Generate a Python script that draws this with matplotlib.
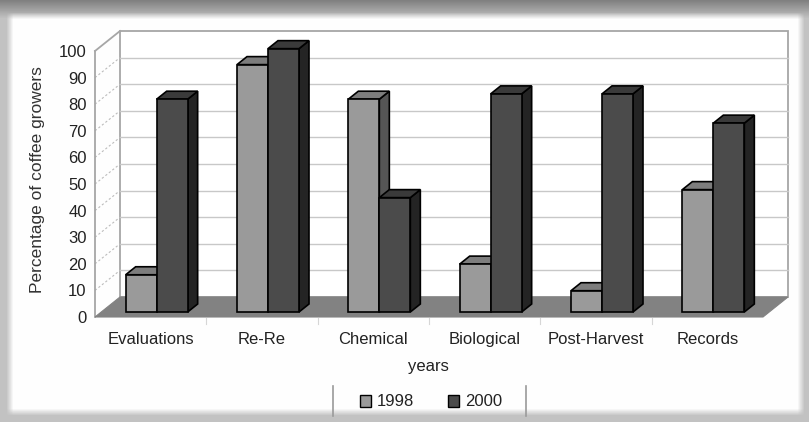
import numpy as np
import matplotlib
matplotlib.use("Agg")
import matplotlib.pyplot as plt
from matplotlib.patches import Polygon, Patch
from matplotlib.lines import Line2D

# ---- data -------------------------------------------------------------
categories = ["Evaluations", "Re-Re", "Chemical", "Biological", "Post-Harvest", "Records"]
series_names = ["1998", "2000"]
values_1998 = [14, 93, 80, 18, 8, 46]
values_2000 = [80, 99, 43, 82, 82, 71]
y_ticks = [0, 10, 20, 30, 40, 50, 60, 70, 80, 90, 100]
y_label = "Percentage of coffee growers"
x_label = "years"

plt.rcParams['font.family'] = ['Liberation Sans', 'DejaVu Sans']

W, H = 809, 422
fig = plt.figure(figsize=(W / 100, H / 100), dpi=100)

# ---- soft grey frame behind the chart panel ---------------------------
bg_ax = fig.add_axes([0, 0, 1, 1])
bg_ax.axis('off')
yy, xx = np.mgrid[0:H, 0:W]
panel = ((xx >= 10) & (xx <= 800) & (yy >= 16) & (yy <= 411)).astype(float)


def box_blur(a, r):
    k = np.ones(2 * r + 1) / (2 * r + 1)
    a = np.apply_along_axis(lambda m: np.convolve(m, k, mode='same'), 0, a)
    a = np.apply_along_axis(lambda m: np.convolve(m, k, mode='same'), 1, a)
    return a


panel = box_blur(panel, 3)
base = np.full((H, W), 0.76)
base -= 0.26 * np.clip((18 - yy) / 18.0, 0, 1)
shade = base * (1 - panel) + 0.995 * panel
bg_ax.imshow(shade, cmap='gray', vmin=0, vmax=1, extent=(0, W, H, 0),
             aspect='auto', interpolation='bilinear')
bg_ax.set_xlim(0, W)
bg_ax.set_ylim(H, 0)

# ---- main axes (front plane of the 3-D box) ---------------------------
ax = fig.add_axes([95 / W, (H - 317) / H, 668 / W, 266 / H])
ax.set_xlim(-0.5, len(categories) - 0.5)
ax.set_ylim(0, 100)
ax.patch.set_alpha(0)
for s in ax.spines.values():
    s.set_visible(False)

px_x = 668 / len(categories)      # pixels per category
px_y = 266 / 100.0                # pixels per percentage point
floor_dx, floor_dy = 25 / px_x, 20 / px_y
front_dx, front_dy = 6 / px_x, 5 / px_y
bar_dx, bar_dy = 10 / px_x, 8 / px_y
bar_w = 31 / px_x

x0, x1 = -0.5, len(categories) - 0.5

# floor
ax.add_patch(Polygon([(x0, 0), (x1, 0), (x1 + floor_dx, floor_dy), (x0 + floor_dx, floor_dy)],
                     closed=True, facecolor='#828282', edgecolor='#828282',
                     lw=0.8, clip_on=False, zorder=1))
# back wall
ax.add_patch(Polygon([(x0 + floor_dx, floor_dy), (x1 + floor_dx, floor_dy),
                      (x1 + floor_dx, 100 + floor_dy), (x0 + floor_dx, 100 + floor_dy)],
                     closed=True, facecolor='white', edgecolor='#a6a6a6',
                     lw=1.3, clip_on=False, zorder=0.5))
for v in y_ticks[1:-1]:
    ax.plot([x0 + floor_dx, x1 + floor_dx], [v + floor_dy] * 2, color='#c8c8c8',
            lw=1.0, clip_on=False, zorder=0.6)
    ax.plot([x0, x0 + floor_dx], [v, v + floor_dy], color='#bcbcbc', lw=0.8,
            ls=(0, (2, 2)), clip_on=False, zorder=0.6)
# left wall edges
ax.plot([x0, x0], [0, 100], color='#a6a6a6', lw=1.3, clip_on=False, zorder=0.7)
ax.plot([x0, x0 + floor_dx], [100, 100 + floor_dy], color='#a6a6a6', lw=1.3,
        clip_on=False, zorder=0.7)
# faint category separators under the floor
for k in range(1, len(categories)):
    ax.plot([k - 0.5, k - 0.5], [-0.5, -2.5], color='#d6d6d6', lw=0.8, clip_on=False, zorder=1)

# ---- bars --------------------------------------------------------------
xpos = np.arange(len(categories))
styles = {
    "1998": dict(front='#9a9a9a', top='#7d7d7d', side='#555555'),
    "2000": dict(front='#4b4b4b', top='#3a3a3a', side='#242424'),
}
bars98 = ax.bar(xpos - bar_w + front_dx, values_1998, width=bar_w, bottom=front_dy,
                align='edge', color=styles["1998"]["front"], edgecolor='black', lw=1.2)
bars00 = ax.bar(xpos + front_dx, values_2000, width=bar_w, bottom=front_dy,
                align='edge', color=styles["2000"]["front"], edgecolor='black', lw=1.2)

z = 2.0
for i in range(len(categories)):
    for name, patch in (("1998", bars98[i]), ("2000", bars00[i])):
        bx, by = patch.get_x(), patch.get_y()
        bw, bh = patch.get_width(), patch.get_height()
        side = [(bx + bw, by), (bx + bw + bar_dx, by + bar_dy),
                (bx + bw + bar_dx, by + bh + bar_dy), (bx + bw, by + bh)]
        top = [(bx, by + bh), (bx + bw, by + bh),
               (bx + bw + bar_dx, by + bh + bar_dy), (bx + bar_dx, by + bh + bar_dy)]
        ax.add_patch(Polygon(side, closed=True, facecolor=styles[name]["side"],
                             edgecolor='black', lw=1.2, clip_on=False, zorder=z))
        ax.add_patch(Polygon(top, closed=True, facecolor=styles[name]["top"],
                             edgecolor='black', lw=1.2, clip_on=False, zorder=z + 0.1))
        patch.set_zorder(z + 0.2)
        patch.set_clip_on(False)
        z += 1

# ---- ticks and labels --------------------------------------------------
ax.set_yticks(y_ticks)
ax.set_yticklabels([str(t) for t in y_ticks])
ax.set_xticks(xpos)
ax.set_xticklabels(categories)
ax.tick_params(axis='y', length=0, pad=6, labelsize=12, labelcolor='#222222')
ax.tick_params(axis='x', length=0, pad=11, labelsize=12, labelcolor='#222222')

fig.text(38 / W, 1 - 180 / H, y_label, rotation=90, ha='center', va='center',
         fontsize=12.5, color='#333333')
fig.text(428 / W, 1 - 367 / H, x_label, ha='center', va='center',
         fontsize=12, color='#222222')

handles = [Patch(facecolor=styles[n]["front"], edgecolor='black', lw=1.0) for n in series_names]
fig.legend(handles, series_names, loc='center', bbox_to_anchor=(431 / W, 1 - 402 / H),
           ncol=2, frameon=False, fontsize=12, handlelength=0.7, handleheight=0.7,
           columnspacing=2.0, handletextpad=0.35, labelcolor='#222222')
for lx in (333, 526):
    fig.add_artist(Line2D([lx / W, lx / W], [1 - 386 / H, 1 - 416 / H],
                          transform=fig.transFigure, color='#9a9a9a', lw=1.2))

fig.savefig("out.png", dpi=100)
